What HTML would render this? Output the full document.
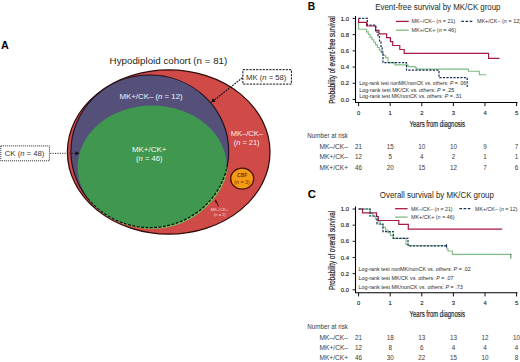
<!DOCTYPE html>
<html><head><meta charset="utf-8"><style>
html,body{margin:0;padding:0;background:#fff;}
body{width:520px;height:362px;overflow:hidden;}
svg{display:block;font-family:"Liberation Sans", sans-serif;}
</style></head><body>
<svg width="520" height="362" viewBox="0 0 520 362">
<rect width="520" height="362" fill="#fff"/>
<text x="1.0" y="49.2" font-size="11.7" text-anchor="start" fill="#000" font-weight="700" textLength="7.8" lengthAdjust="spacingAndGlyphs" >A</text>
<text x="109.6" y="63.7" font-size="8.9" text-anchor="start" fill="#231f20" font-weight="400" textLength="117.7" lengthAdjust="spacingAndGlyphs" >Hypodiploid cohort (n = 81)</text>
<ellipse cx="168.7" cy="152.0" rx="101.3" ry="82.2" fill="#d04a48" stroke="#330b0b" stroke-width="1.25"/>
<ellipse cx="149.8" cy="151.35" rx="78.9" ry="76.3" fill="#55507a" stroke="#1a1020" stroke-width="1.1"/>
<defs><clipPath id="gclip"><ellipse cx="152.2" cy="167.05" rx="74.6" ry="61.6"/></clipPath><clipPath id="pexp"><ellipse cx="149.8" cy="151.35" rx="80.7" ry="78.1"/></clipPath><clipPath id="outP"><path clip-rule="evenodd" d="M0,0H520V362H0Z M70.9,151.35 a78.9,76.3 0 1,0 157.8,0 a78.9,76.3 0 1,0 -157.8,0 Z"/></clipPath></defs>
<g clip-path="url(#pexp)"><ellipse cx="152.2" cy="167.05" rx="74.6" ry="61.6" fill="#409850"/>
<ellipse cx="152.2" cy="167.05" rx="74.6" ry="61.6" fill="#86bd5c" clip-path="url(#outP)"/>
</g>
<ellipse cx="149.8" cy="151.35" rx="78.9" ry="76.3" fill="none" stroke="#061006" stroke-width="1.35" stroke-dasharray="2.9 1.5" clip-path="url(#gclip)"/>
<ellipse cx="242.2" cy="178.7" rx="11.5" ry="10.5" fill="#f59a14" stroke="#4a1408" stroke-width="1.3"/>
<text x="242.2" y="176.7" font-size="4.7" text-anchor="middle" fill="#6a3400" font-weight="700" textLength="10.2" lengthAdjust="spacingAndGlyphs" >CBF</text>
<text x="242.0" y="183.7" font-size="4.6" text-anchor="middle" fill="#6a3400" font-weight="400" textLength="15.4" lengthAdjust="spacingAndGlyphs" >(<tspan font-style="italic">n</tspan> = 3)</text>
<text x="119.5" y="99.2" font-size="7.8" text-anchor="start" fill="#f4f2fa" font-weight="400" textLength="63.2" lengthAdjust="spacingAndGlyphs" >MK+/CK– (<tspan font-style="italic">n</tspan> = 12)</text>
<text x="131.9" y="152.2" font-size="7.7" text-anchor="start" fill="#f2faf2" font-weight="400" textLength="34.6" lengthAdjust="spacingAndGlyphs" >MK+/CK+</text>
<text x="136.0" y="161.1" font-size="7.7" text-anchor="start" fill="#f2faf2" font-weight="400" textLength="26.5" lengthAdjust="spacingAndGlyphs" >(<tspan font-style="italic">n</tspan> = 46)</text>
<text x="230.8" y="135.9" font-size="7.7" text-anchor="start" fill="#fbeeee" font-weight="400" textLength="32.2" lengthAdjust="spacingAndGlyphs" >MK–/CK–</text>
<text x="233.7" y="145.0" font-size="7.7" text-anchor="start" fill="#fbeeee" font-weight="400" textLength="25.9" lengthAdjust="spacingAndGlyphs" >(<tspan font-style="italic">n</tspan> = 21)</text>
<text x="219.5" y="211.3" font-size="3.9" text-anchor="middle" fill="#f8dada" font-weight="400" textLength="17.3" lengthAdjust="spacingAndGlyphs" >MK–/CK+</text>
<text x="219.8" y="216.3" font-size="3.9" text-anchor="middle" fill="#f8dada" font-weight="400" textLength="11.7" lengthAdjust="spacingAndGlyphs" >(<tspan font-style="italic">n</tspan> = 2)</text>
<line x1="218.5" y1="206.4" x2="215.8" y2="200.5" stroke="#111" stroke-width="0.9"/>
<path d="M215.2,199.3 L217.0,202.0 L215.3,202.6 Z" fill="#111"/>
<rect x="242.9" y="69.7" width="48.5" height="14.4" fill="#fff" stroke="#111" stroke-width="1" stroke-dasharray="2.2 1.1"/>
<text x="246.0" y="79.8" font-size="7.5" text-anchor="start" fill="#333" font-weight="400" textLength="40.4" lengthAdjust="spacingAndGlyphs" >MK (<tspan font-style="italic">n</tspan> = 58)</text>
<line x1="242.4" y1="77.8" x2="213.8" y2="100.4" stroke="#111" stroke-width="1.15" stroke-dasharray="1.8 1"/>
<path d="M211.0,102.6 L212.9,98.3 L215.6,101.6 Z" fill="#111"/>
<rect x="0.8" y="145.9" width="48.6" height="14.9" fill="#fff" stroke="#222" stroke-width="1" stroke-dasharray="1 1"/>
<text x="4.8" y="156.1" font-size="7.5" text-anchor="start" fill="#333" font-weight="400" textLength="39.6" lengthAdjust="spacingAndGlyphs" >CK (<tspan font-style="italic">n</tspan> = 48)</text>
<line x1="50.2" y1="153.3" x2="76" y2="153.3" stroke="#222" stroke-width="1" stroke-dasharray="1.1 1.3"/>
<path d="M79.6,153.3 L75.4,151.2 L75.4,155.4 Z" fill="#111"/>
<text x="307.8" y="9.8" font-size="10.4" text-anchor="start" fill="#000" font-weight="700" textLength="7.4" lengthAdjust="spacingAndGlyphs" >B</text>
<text x="375.3" y="10.4" font-size="8.5" text-anchor="start" fill="#231f20" font-weight="400" textLength="125.2" lengthAdjust="spacingAndGlyphs" >Event-free survival by MK/CK group</text>
<path d="M355.5,15.999999999999998 V102.5 H517.5" fill="none" stroke="#000" stroke-width="1.1"/>
<line x1="352.6" y1="99.50" x2="355.5" y2="99.50" stroke="#000" stroke-width="0.9"/>
<text x="349.0" y="101.6" font-size="5.8" text-anchor="end" fill="#1a1a1a" font-weight="400" textLength="8.2" lengthAdjust="spacingAndGlyphs" stroke="#1a1a1a" stroke-width="0.12">0.0</text>
<line x1="352.6" y1="83.28" x2="355.5" y2="83.28" stroke="#000" stroke-width="0.9"/>
<text x="349.0" y="85.38" font-size="5.8" text-anchor="end" fill="#1a1a1a" font-weight="400" textLength="8.2" lengthAdjust="spacingAndGlyphs" stroke="#1a1a1a" stroke-width="0.12">0.2</text>
<line x1="352.6" y1="67.06" x2="355.5" y2="67.06" stroke="#000" stroke-width="0.9"/>
<text x="349.0" y="69.16" font-size="5.8" text-anchor="end" fill="#1a1a1a" font-weight="400" textLength="8.2" lengthAdjust="spacingAndGlyphs" stroke="#1a1a1a" stroke-width="0.12">0.4</text>
<line x1="352.6" y1="50.84" x2="355.5" y2="50.84" stroke="#000" stroke-width="0.9"/>
<text x="349.0" y="52.94" font-size="5.8" text-anchor="end" fill="#1a1a1a" font-weight="400" textLength="8.2" lengthAdjust="spacingAndGlyphs" stroke="#1a1a1a" stroke-width="0.12">0.6</text>
<line x1="352.6" y1="34.62" x2="355.5" y2="34.62" stroke="#000" stroke-width="0.9"/>
<text x="349.0" y="36.720000000000006" font-size="5.8" text-anchor="end" fill="#1a1a1a" font-weight="400" textLength="8.2" lengthAdjust="spacingAndGlyphs" stroke="#1a1a1a" stroke-width="0.12">0.8</text>
<line x1="352.6" y1="18.40" x2="355.5" y2="18.40" stroke="#000" stroke-width="0.9"/>
<text x="349.0" y="20.500000000000007" font-size="5.8" text-anchor="end" fill="#1a1a1a" font-weight="400" textLength="8.2" lengthAdjust="spacingAndGlyphs" stroke="#1a1a1a" stroke-width="0.12">1.0</text>
<line x1="358.60" y1="102.5" x2="358.60" y2="106.1" stroke="#000" stroke-width="0.95"/>
<text x="358.6" y="114.7" font-size="5.8" text-anchor="middle" fill="#1a1a1a" font-weight="400" stroke="#1a1a1a" stroke-width="0.12">0</text>
<line x1="390.20" y1="102.5" x2="390.20" y2="106.1" stroke="#000" stroke-width="0.95"/>
<text x="390.20000000000005" y="114.7" font-size="5.8" text-anchor="middle" fill="#1a1a1a" font-weight="400" stroke="#1a1a1a" stroke-width="0.12">1</text>
<line x1="421.80" y1="102.5" x2="421.80" y2="106.1" stroke="#000" stroke-width="0.95"/>
<text x="421.8" y="114.7" font-size="5.8" text-anchor="middle" fill="#1a1a1a" font-weight="400" stroke="#1a1a1a" stroke-width="0.12">2</text>
<line x1="453.40" y1="102.5" x2="453.40" y2="106.1" stroke="#000" stroke-width="0.95"/>
<text x="453.40000000000003" y="114.7" font-size="5.8" text-anchor="middle" fill="#1a1a1a" font-weight="400" stroke="#1a1a1a" stroke-width="0.12">3</text>
<line x1="485.00" y1="102.5" x2="485.00" y2="106.1" stroke="#000" stroke-width="0.95"/>
<text x="485.0" y="114.7" font-size="5.8" text-anchor="middle" fill="#1a1a1a" font-weight="400" stroke="#1a1a1a" stroke-width="0.12">4</text>
<line x1="516.60" y1="102.5" x2="516.60" y2="106.1" stroke="#000" stroke-width="0.95"/>
<text x="516.6" y="114.7" font-size="5.8" text-anchor="middle" fill="#1a1a1a" font-weight="400" stroke="#1a1a1a" stroke-width="0.12">5</text>
<text transform="translate(335.0,60.0) rotate(-90)" x="0" y="0" font-size="8.6" text-anchor="middle" fill="#1a1a1a" stroke="#1a1a1a" stroke-width="0.18" textLength="87.6" lengthAdjust="spacingAndGlyphs">Probability of event-free survival</text>
<text x="409.6" y="127.1" font-size="8.4" text-anchor="start" fill="#1a1a1a" font-weight="400" textLength="55.4" lengthAdjust="spacingAndGlyphs" stroke="#1a1a1a" stroke-width="0.18">Years from diagnosis</text>
<path d="M358.6,18.4 V29.3 H364.6 H366.44 V31.90 H368.28 V34.50 H370.12 V37.10 H371.96 V39.70 H373.80 V42.30 H375.64 V44.90 H377.48 V47.50 H379.32 V50.10 H381.16 V52.70 H383.00 V55.30 H385.5 V57.6 H388.0 V62.6 H395.0 V64.9 H408.0 V66.6 H415.0 V67.8 H416.6 V69.1 H468.3 V71.2 H479.4 V74.7 H486.3" fill="none" stroke="#80bb84" stroke-width="1.1"/>
<path d="M358.6,18.4 V22.3 H366.6 V26.0 H375.6 V30.3 H379.0 V33.8 H386.6 V37.7 H390.4 V41.6 H392.7 V45.5 H399.8 V49.5 H404.2 V53.3 H488.6 V58.4 H499.4" fill="none" stroke="#a81a42" stroke-width="1.2"/>
<path d="M358.6,18.4 H367.4 V25.1 H375.8 V32.2 H378.0 V36.0 H379.5 V41.0 H381.0 V46.5 H382.2 V52.0 H383.0 V62.6 H406.5 V70.2 H439.0 V77.6 H467.2 V87.6" fill="none" stroke="#17305c" stroke-width="1.2" stroke-dasharray="2.2 1.3"/>
<line x1="396.0" y1="21.4" x2="408.8" y2="21.4" stroke="#a81a42" stroke-width="1.3"/>
<line x1="396.0" y1="30.2" x2="408.8" y2="30.2" stroke="#80bb84" stroke-width="1.3"/>
<line x1="461.3" y1="21.4" x2="473.8" y2="21.4" stroke="#17305c" stroke-width="1.3" stroke-dasharray="2.6 1.6"/>
<text x="411.5" y="23.4" font-size="5.3" text-anchor="start" fill="#333" font-weight="400" textLength="43.8" lengthAdjust="spacingAndGlyphs" >MK–/CK– (<tspan font-style="italic">n</tspan> = 21)</text>
<text x="411.5" y="32.0" font-size="5.3" text-anchor="start" fill="#333" font-weight="400" textLength="44.5" lengthAdjust="spacingAndGlyphs" >MK+/CK+ (<tspan font-style="italic">n</tspan> = 46)</text>
<text x="476.9" y="23.4" font-size="5.3" text-anchor="start" fill="#333" font-weight="400" textLength="44.2" lengthAdjust="spacingAndGlyphs" >MK+/CK– (<tspan font-style="italic">n</tspan> = 12)</text>
<text x="359.2" y="85.1" font-size="5.3" text-anchor="start" fill="#2a2a2a" font-weight="400" textLength="107.0" lengthAdjust="spacingAndGlyphs" >Log-rank test nonMK/nonCK vs. others: <tspan font-style="italic">P</tspan> = .06</text>
<text x="359.2" y="91.5" font-size="5.3" text-anchor="start" fill="#2a2a2a" font-weight="400" textLength="95.1" lengthAdjust="spacingAndGlyphs" >Log-rank test MK/CK vs. others: <tspan font-style="italic">P</tspan> = .25</text>
<text x="359.2" y="98.0" font-size="5.3" text-anchor="start" fill="#2a2a2a" font-weight="400" textLength="102.5" lengthAdjust="spacingAndGlyphs" >Log-rank test MK/nonCK vs. others: <tspan font-style="italic">P</tspan> = .31</text>
<text x="307.3" y="138.2" font-size="6.3" text-anchor="start" fill="#3a3a3a" font-weight="400" textLength="40.7" lengthAdjust="spacingAndGlyphs" >Number at risk</text>
<text x="348.0" y="148.9" font-size="6.3" text-anchor="end" fill="#3a3a3a" font-weight="400" textLength="28.5" lengthAdjust="spacingAndGlyphs" >MK–/CK–</text>
<text x="358.6" y="148.9" font-size="6.3" text-anchor="middle" fill="#3a3a3a" font-weight="400" >21</text>
<text x="390.20000000000005" y="148.9" font-size="6.3" text-anchor="middle" fill="#3a3a3a" font-weight="400" >15</text>
<text x="421.8" y="148.9" font-size="6.3" text-anchor="middle" fill="#3a3a3a" font-weight="400" >10</text>
<text x="453.40000000000003" y="148.9" font-size="6.3" text-anchor="middle" fill="#3a3a3a" font-weight="400" >10</text>
<text x="485.0" y="148.9" font-size="6.3" text-anchor="middle" fill="#3a3a3a" font-weight="400" >9</text>
<text x="516.6" y="148.9" font-size="6.3" text-anchor="middle" fill="#3a3a3a" font-weight="400" >7</text>
<text x="348.0" y="159.4" font-size="6.3" text-anchor="end" fill="#3a3a3a" font-weight="400" textLength="28.5" lengthAdjust="spacingAndGlyphs" >MK+/CK–</text>
<text x="358.6" y="159.4" font-size="6.3" text-anchor="middle" fill="#3a3a3a" font-weight="400" >12</text>
<text x="390.20000000000005" y="159.4" font-size="6.3" text-anchor="middle" fill="#3a3a3a" font-weight="400" >5</text>
<text x="421.8" y="159.4" font-size="6.3" text-anchor="middle" fill="#3a3a3a" font-weight="400" >4</text>
<text x="453.40000000000003" y="159.4" font-size="6.3" text-anchor="middle" fill="#3a3a3a" font-weight="400" >2</text>
<text x="485.0" y="159.4" font-size="6.3" text-anchor="middle" fill="#3a3a3a" font-weight="400" >1</text>
<text x="516.6" y="159.4" font-size="6.3" text-anchor="middle" fill="#3a3a3a" font-weight="400" >1</text>
<text x="348.0" y="169.9" font-size="6.3" text-anchor="end" fill="#3a3a3a" font-weight="400" textLength="28.5" lengthAdjust="spacingAndGlyphs" >MK+/CK+</text>
<text x="358.6" y="169.9" font-size="6.3" text-anchor="middle" fill="#3a3a3a" font-weight="400" >46</text>
<text x="390.20000000000005" y="169.9" font-size="6.3" text-anchor="middle" fill="#3a3a3a" font-weight="400" >20</text>
<text x="421.8" y="169.9" font-size="6.3" text-anchor="middle" fill="#3a3a3a" font-weight="400" >15</text>
<text x="453.40000000000003" y="169.9" font-size="6.3" text-anchor="middle" fill="#3a3a3a" font-weight="400" >12</text>
<text x="485.0" y="169.9" font-size="6.3" text-anchor="middle" fill="#3a3a3a" font-weight="400" >7</text>
<text x="516.6" y="169.9" font-size="6.3" text-anchor="middle" fill="#3a3a3a" font-weight="400" >6</text>
<text x="307.8" y="197.70000000000002" font-size="10.6" text-anchor="start" fill="#000" font-weight="700" textLength="8.2" lengthAdjust="spacingAndGlyphs" >C</text>
<text x="379.8" y="197.6" font-size="8.5" text-anchor="start" fill="#231f20" font-weight="400" textLength="114.0" lengthAdjust="spacingAndGlyphs" >Overall survival by MK/CK group</text>
<path d="M355.5,206.6 V292.8 H517.5" fill="none" stroke="#000" stroke-width="1.1"/>
<line x1="352.6" y1="289.80" x2="355.5" y2="289.80" stroke="#000" stroke-width="0.9"/>
<text x="349.0" y="291.90000000000003" font-size="5.8" text-anchor="end" fill="#1a1a1a" font-weight="400" textLength="8.2" lengthAdjust="spacingAndGlyphs" stroke="#1a1a1a" stroke-width="0.12">0.0</text>
<line x1="352.6" y1="273.64" x2="355.5" y2="273.64" stroke="#000" stroke-width="0.9"/>
<text x="349.0" y="275.74" font-size="5.8" text-anchor="end" fill="#1a1a1a" font-weight="400" textLength="8.2" lengthAdjust="spacingAndGlyphs" stroke="#1a1a1a" stroke-width="0.12">0.2</text>
<line x1="352.6" y1="257.48" x2="355.5" y2="257.48" stroke="#000" stroke-width="0.9"/>
<text x="349.0" y="259.58000000000004" font-size="5.8" text-anchor="end" fill="#1a1a1a" font-weight="400" textLength="8.2" lengthAdjust="spacingAndGlyphs" stroke="#1a1a1a" stroke-width="0.12">0.4</text>
<line x1="352.6" y1="241.32" x2="355.5" y2="241.32" stroke="#000" stroke-width="0.9"/>
<text x="349.0" y="243.42" font-size="5.8" text-anchor="end" fill="#1a1a1a" font-weight="400" textLength="8.2" lengthAdjust="spacingAndGlyphs" stroke="#1a1a1a" stroke-width="0.12">0.6</text>
<line x1="352.6" y1="225.16" x2="355.5" y2="225.16" stroke="#000" stroke-width="0.9"/>
<text x="349.0" y="227.26" font-size="5.8" text-anchor="end" fill="#1a1a1a" font-weight="400" textLength="8.2" lengthAdjust="spacingAndGlyphs" stroke="#1a1a1a" stroke-width="0.12">0.8</text>
<line x1="352.6" y1="209.00" x2="355.5" y2="209.00" stroke="#000" stroke-width="0.9"/>
<text x="349.0" y="211.1" font-size="5.8" text-anchor="end" fill="#1a1a1a" font-weight="400" textLength="8.2" lengthAdjust="spacingAndGlyphs" stroke="#1a1a1a" stroke-width="0.12">1.0</text>
<line x1="358.60" y1="292.8" x2="358.60" y2="296.40000000000003" stroke="#000" stroke-width="0.95"/>
<text x="358.6" y="305.0" font-size="5.8" text-anchor="middle" fill="#1a1a1a" font-weight="400" stroke="#1a1a1a" stroke-width="0.12">0</text>
<line x1="390.20" y1="292.8" x2="390.20" y2="296.40000000000003" stroke="#000" stroke-width="0.95"/>
<text x="390.20000000000005" y="305.0" font-size="5.8" text-anchor="middle" fill="#1a1a1a" font-weight="400" stroke="#1a1a1a" stroke-width="0.12">1</text>
<line x1="421.80" y1="292.8" x2="421.80" y2="296.40000000000003" stroke="#000" stroke-width="0.95"/>
<text x="421.8" y="305.0" font-size="5.8" text-anchor="middle" fill="#1a1a1a" font-weight="400" stroke="#1a1a1a" stroke-width="0.12">2</text>
<line x1="453.40" y1="292.8" x2="453.40" y2="296.40000000000003" stroke="#000" stroke-width="0.95"/>
<text x="453.40000000000003" y="305.0" font-size="5.8" text-anchor="middle" fill="#1a1a1a" font-weight="400" stroke="#1a1a1a" stroke-width="0.12">3</text>
<line x1="485.00" y1="292.8" x2="485.00" y2="296.40000000000003" stroke="#000" stroke-width="0.95"/>
<text x="485.0" y="305.0" font-size="5.8" text-anchor="middle" fill="#1a1a1a" font-weight="400" stroke="#1a1a1a" stroke-width="0.12">4</text>
<line x1="516.60" y1="292.8" x2="516.60" y2="296.40000000000003" stroke="#000" stroke-width="0.95"/>
<text x="516.6" y="305.0" font-size="5.8" text-anchor="middle" fill="#1a1a1a" font-weight="400" stroke="#1a1a1a" stroke-width="0.12">5</text>
<text transform="translate(335.0,250.4) rotate(-90)" x="0" y="0" font-size="8.6" text-anchor="middle" fill="#1a1a1a" stroke="#1a1a1a" stroke-width="0.18" textLength="79.0" lengthAdjust="spacingAndGlyphs">Probability of overall survival</text>
<text x="409.6" y="317.40000000000003" font-size="8.4" text-anchor="start" fill="#1a1a1a" font-weight="400" textLength="55.4" lengthAdjust="spacingAndGlyphs" stroke="#1a1a1a" stroke-width="0.18">Years from diagnosis</text>
<path d="M358.6,209.0 H370.3 V213.5 H372.82 V216.26 H375.34 V219.01 H377.87 V221.77 H380.39 V224.52 H382.91 V227.28 H385.43 V230.03 H387.96 V232.79 H390.48 V235.54 H393.00 V238.30 H406.0 V244.4 H408.5 V245.8 H446.8 V249.0 H448.0 V251.0 H452.3 V254.4 H511.5" fill="none" stroke="#80bb84" stroke-width="1.1"/>
<path d="M358.6,209.0 H362.5 V212.9 H376.5 V216.5 H378.3 V220.5 H398.8 V224.4 H408.3 V229.2 H502.2" fill="none" stroke="#a81a42" stroke-width="1.2"/>
<path d="M358.6,209.0 H370.0 V216.0 H377.0 V224.0 H383.0 V231.6 H393.3 V238.3 H408.0 V245.8 H446.5" fill="none" stroke="#17305c" stroke-width="1.2" stroke-dasharray="2.2 1.3"/>
<line x1="446.5" y1="244.20000000000002" x2="446.5" y2="247.4" stroke="#17305c" stroke-width="1"/>
<line x1="510.8" y1="253.9" x2="510.8" y2="258.6" stroke="#4a8a4d" stroke-width="1"/>
<line x1="395.1" y1="208.7" x2="407.6" y2="208.7" stroke="#a81a42" stroke-width="1.3"/>
<line x1="395.1" y1="217.1" x2="407.6" y2="217.1" stroke="#80bb84" stroke-width="1.3"/>
<line x1="459.4" y1="208.6" x2="471.9" y2="208.6" stroke="#17305c" stroke-width="1.3" stroke-dasharray="2.6 1.6"/>
<text x="410.9" y="210.7" font-size="5.3" text-anchor="start" fill="#333" font-weight="400" textLength="41.7" lengthAdjust="spacingAndGlyphs" >MK–/CK– (<tspan font-style="italic">n</tspan> = 21)</text>
<text x="410.9" y="218.9" font-size="5.3" text-anchor="start" fill="#333" font-weight="400" textLength="43.7" lengthAdjust="spacingAndGlyphs" >MK+/CK+ (<tspan font-style="italic">n</tspan> = 46)</text>
<text x="475.0" y="210.6" font-size="5.3" text-anchor="start" fill="#333" font-weight="400" textLength="42.5" lengthAdjust="spacingAndGlyphs" >MK+/CK– (<tspan font-style="italic">n</tspan> = 12)</text>
<text x="358.5" y="270.7" font-size="5.3" text-anchor="start" fill="#2a2a2a" font-weight="400" textLength="112.2" lengthAdjust="spacingAndGlyphs" >Log-rank test nonMK/nonCK vs. others: <tspan font-style="italic">P</tspan> = .02</text>
<text x="358.5" y="279.5" font-size="5.3" text-anchor="start" fill="#2a2a2a" font-weight="400" textLength="95.0" lengthAdjust="spacingAndGlyphs" >Log-rank test MK/CK vs. others: <tspan font-style="italic">P</tspan> = .07</text>
<text x="358.5" y="288.6" font-size="5.3" text-anchor="start" fill="#2a2a2a" font-weight="400" textLength="104.2" lengthAdjust="spacingAndGlyphs" >Log-rank test MK/nonCK vs. others: <tspan font-style="italic">P</tspan> = .73</text>
<text x="307.3" y="329.2" font-size="6.3" text-anchor="start" fill="#3a3a3a" font-weight="400" textLength="40.7" lengthAdjust="spacingAndGlyphs" >Number at risk</text>
<text x="348.0" y="339.90000000000003" font-size="6.3" text-anchor="end" fill="#3a3a3a" font-weight="400" textLength="28.5" lengthAdjust="spacingAndGlyphs" >MK–/CK–</text>
<text x="358.6" y="339.90000000000003" font-size="6.3" text-anchor="middle" fill="#3a3a3a" font-weight="400" >21</text>
<text x="390.20000000000005" y="339.90000000000003" font-size="6.3" text-anchor="middle" fill="#3a3a3a" font-weight="400" >18</text>
<text x="421.8" y="339.90000000000003" font-size="6.3" text-anchor="middle" fill="#3a3a3a" font-weight="400" >13</text>
<text x="453.40000000000003" y="339.90000000000003" font-size="6.3" text-anchor="middle" fill="#3a3a3a" font-weight="400" >13</text>
<text x="485.0" y="339.90000000000003" font-size="6.3" text-anchor="middle" fill="#3a3a3a" font-weight="400" >12</text>
<text x="516.6" y="339.90000000000003" font-size="6.3" text-anchor="middle" fill="#3a3a3a" font-weight="400" >10</text>
<text x="348.0" y="350.1" font-size="6.3" text-anchor="end" fill="#3a3a3a" font-weight="400" textLength="28.5" lengthAdjust="spacingAndGlyphs" >MK+/CK–</text>
<text x="358.6" y="350.1" font-size="6.3" text-anchor="middle" fill="#3a3a3a" font-weight="400" >12</text>
<text x="390.20000000000005" y="350.1" font-size="6.3" text-anchor="middle" fill="#3a3a3a" font-weight="400" >8</text>
<text x="421.8" y="350.1" font-size="6.3" text-anchor="middle" fill="#3a3a3a" font-weight="400" >6</text>
<text x="453.40000000000003" y="350.1" font-size="6.3" text-anchor="middle" fill="#3a3a3a" font-weight="400" >4</text>
<text x="485.0" y="350.1" font-size="6.3" text-anchor="middle" fill="#3a3a3a" font-weight="400" >4</text>
<text x="516.6" y="350.1" font-size="6.3" text-anchor="middle" fill="#3a3a3a" font-weight="400" >4</text>
<text x="348.0" y="360.20000000000005" font-size="6.3" text-anchor="end" fill="#3a3a3a" font-weight="400" textLength="28.5" lengthAdjust="spacingAndGlyphs" >MK+/CK+</text>
<text x="358.6" y="360.20000000000005" font-size="6.3" text-anchor="middle" fill="#3a3a3a" font-weight="400" >46</text>
<text x="390.20000000000005" y="360.20000000000005" font-size="6.3" text-anchor="middle" fill="#3a3a3a" font-weight="400" >30</text>
<text x="421.8" y="360.20000000000005" font-size="6.3" text-anchor="middle" fill="#3a3a3a" font-weight="400" >22</text>
<text x="453.40000000000003" y="360.20000000000005" font-size="6.3" text-anchor="middle" fill="#3a3a3a" font-weight="400" >15</text>
<text x="485.0" y="360.20000000000005" font-size="6.3" text-anchor="middle" fill="#3a3a3a" font-weight="400" >10</text>
<text x="516.6" y="360.20000000000005" font-size="6.3" text-anchor="middle" fill="#3a3a3a" font-weight="400" >8</text>
</svg>
</body></html>
